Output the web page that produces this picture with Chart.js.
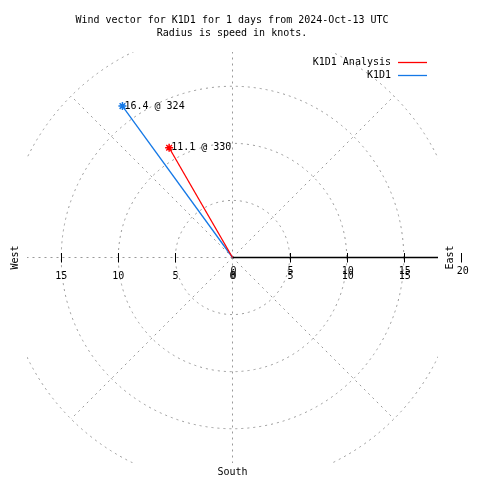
<!DOCTYPE html>
<html>
<head>
<meta charset="utf-8">
<script src="https://cdn.jsdelivr.net/npm/chart.js@4/dist/chart.umd.min.js"></script>
<style>
  html, body { margin: 0; padding: 0; background: #ffffff; }
  #wrap { width: 480px; height: 480px; }
</style>
</head>
<body>
<div id="wrap"><canvas id="c" width="480" height="480"></canvas></div>
<script>
// ---- data ----
const titleLines = ['Wind vector for K1D1 for 1 days from 2024-Oct-13 UTC', 'Radius is speed in knots.'];
const seriesNames = ['K1D1 Analysis', 'K1D1'];
const seriesColors = ['#ff0000', '#1478e6'];
const speeds = [11.1, 16.4];          // knots
const directions = [330, 324];        // degrees
const ringValues = [5, 10, 15, 20];
const tickValues = [5, 10, 15];
const outerTick = 20;
const spokeAngles = [0, 45, 90, 135, 180, 225, 270, 315];
const axisRange = 18;
const compassLabels = { east: 'East', west: 'West', south: 'South' };

const FONT = '10px "DejaVu Sans Mono", "Liberation Mono", monospace';
const GRID = '#999999';

function toXY(speed, dir) {
  const a = dir * Math.PI / 180;
  return { x: speed * Math.sin(a), y: speed * Math.cos(a) };
}

const datasets = seriesNames.map((name, i) => ({
  label: name,
  data: [{ x: 0, y: 0 }, toXY(speeds[i], directions[i])],
  showLine: true,
  borderColor: seriesColors[i],
  backgroundColor: seriesColors[i],
  borderWidth: 1.3,
  pointStyle: 'star',
  pointRadius: [0, 4],
  pointBorderWidth: 1.5,
  pointBorderColor: seriesColors[i],
  speed: speeds[i],
  dir: directions[i]
}));

const gridPlugin = {
  id: 'polarGrid',
  beforeDatasetsDraw(chart) {
    const { ctx, chartArea: ca, scales: { x, y } } = chart;
    const cx = x.getPixelForValue(0), cy = y.getPixelForValue(0);
    const pxPerUnit = x.getPixelForValue(1) - cx;
    ctx.save();
    ctx.beginPath();
    ctx.rect(ca.left, ca.top, ca.right - ca.left, ca.bottom - ca.top);
    ctx.clip();
    ctx.strokeStyle = GRID;
    ctx.lineWidth = 1;
    ctx.setLineDash([2, 4]);
    ringValues.forEach(r => {
      ctx.beginPath();
      ctx.arc(cx, cy, r * pxPerUnit, 0, Math.PI * 2);
      ctx.stroke();
    });
    const rMax = ringValues[ringValues.length - 1];
    spokeAngles.forEach(a => {
      if (a === 90) return; // east covered by solid axis
      const p = toXY(rMax, a);
      ctx.beginPath();
      ctx.moveTo(cx, cy);
      ctx.lineTo(x.getPixelForValue(p.x), y.getPixelForValue(p.y));
      ctx.stroke();
    });
    ctx.restore();

    // solid east axis
    ctx.save();
    ctx.strokeStyle = '#000';
    ctx.lineWidth = 1.5;
    ctx.beginPath();
    ctx.moveTo(cx, cy);
    ctx.lineTo(ca.right, cy);
    ctx.stroke();
    // tick marks
    ctx.lineWidth = 1;
    const ticks = [];
    tickValues.forEach(t => { ticks.push(t); ticks.push(-t); });
    ticks.push(outerTick);
    ticks.forEach(t => {
      const px = Math.round(x.getPixelForValue(t)) + 0.5;
      ctx.beginPath();
      ctx.moveTo(px, cy - 4.5);
      ctx.lineTo(px, cy + 5);
      ctx.stroke();
    });
    ctx.restore();
  },
  afterDatasetsDraw(chart) {
    const { ctx, chartArea: ca, scales: { x, y } } = chart;
    const cx = x.getPixelForValue(0), cy = y.getPixelForValue(0);
    ctx.save();
    ctx.font = FONT;
    ctx.fillStyle = '#000';
    // title
    ctx.textAlign = 'center';
    ctx.textBaseline = 'middle';
    titleLines.forEach((t, i) => ctx.fillText(t, 232, 20 + i * 13));

    // tick labels: west side
    [0].concat(tickValues).forEach(t => {
      ctx.fillText(String(t), x.getPixelForValue(-t), cy + 19);
    });
    // east side (doubled, as in the reference)
    [0].concat(tickValues).forEach(t => {
      const px = x.getPixelForValue(t) + 1;
      ctx.fillText(String(t), px, cy + 14);
      ctx.fillText(String(t), px, cy + 19);
    });
    ctx.fillText(String(outerTick), x.getPixelForValue(outerTick) + 2, cy + 14);

    // compass labels
    ctx.fillText(compassLabels.south, cx, 472);
    ctx.save();
    ctx.translate(450, cy);
    ctx.rotate(-Math.PI / 2);
    ctx.fillText(compassLabels.east, 0, 0);
    ctx.restore();
    ctx.save();
    ctx.translate(15, cy);
    ctx.rotate(-Math.PI / 2);
    ctx.fillText(compassLabels.west, 0, 0);
    ctx.restore();

    // vector labels
    ctx.textAlign = 'left';
    chart.data.datasets.forEach((ds, i) => {
      const meta = chart.getDatasetMeta(i);
      const tip = meta.data[1];
      ctx.fillText(ds.speed.toFixed(1) + ' @ ' + ds.dir, tip.x + 2, tip.y);
    });

    // legend
    chart.data.datasets.forEach((ds, i) => {
      const ly = 62 + i * 13;
      ctx.textAlign = 'right';
      ctx.fillStyle = '#000';
      ctx.fillText(ds.label, 391, ly);
      ctx.strokeStyle = ds.borderColor;
      ctx.lineWidth = 1.3;
      ctx.beginPath();
      ctx.moveTo(398, ly + 0.5);
      ctx.lineTo(427, ly + 0.5);
      ctx.stroke();
    });
    ctx.restore();
  }
};

new Chart(document.getElementById('c'), {
  type: 'scatter',
  data: { datasets },
  options: {
    responsive: false,
    animation: false,
    layout: { padding: { left: 27, right: 42, top: 52, bottom: 17 } },
    scales: {
      x: { type: 'linear', min: -axisRange, max: axisRange, display: false },
      y: { type: 'linear', min: -axisRange, max: axisRange, display: false }
    },
    plugins: {
      legend: { display: false },
      tooltip: { enabled: false },
      title: { display: false }
    }
  },
  plugins: [gridPlugin]
});
</script>
</body>
</html>
